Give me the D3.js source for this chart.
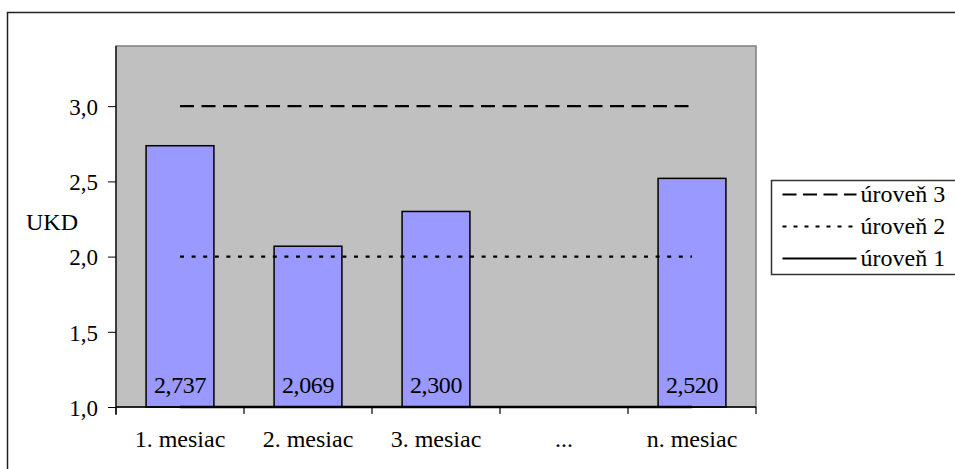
<!DOCTYPE html>
<html>
<head>
<meta charset="utf-8">
<script src="https://cdn.jsdelivr.net/npm/d3@7"></script>
</head>
<body style="margin:0; background:#fff">
<script>
// chart values
var categories = ["1. mesiac", "2. mesiac", "3. mesiac", "...", "n. mesiac"];
var ukdValues = [2.737, 2.069, 2.300, null, 2.520];
var yTicks = [1.0, 1.5, 2.0, 2.5, 3.0];
var levelNames = ["úroveň 3", "úroveň 2", "úroveň 1"];
var levelValues = [3, 2, 1];
var yLabel = "UKD";

var w = 955, h = 469;
var plotL = 116, plotR = 756, plotT = 46, plotB = 407;
var serif = "'Liberation Serif'";

var svg = d3.select("body").append("svg")
    .attr("width", w)
    .attr("height", h);

//outer chart frame
svg.append("rect")
    .attr("x", 7.5).attr("y", 12.5)
    .attr("width", 1000).attr("height", 600)
    .style("fill", "#fff")
    .style("stroke", "#222")
    .style("stroke-width", 1.5);

var x = d3.scaleBand()
    .domain(categories)
    .range([plotL, plotR])
    .padding(0);

var y = d3.scaleLinear()
    .domain([1, 3.4])
    .range([plotB, plotT]);

//plot area
svg.append("rect")
    .attr("x", plotL).attr("y", plotT)
    .attr("width", plotR - plotL).attr("height", plotB - plotT)
    .style("fill", "#c0c0c0")
    .style("stroke", "#808080")
    .style("stroke-width", 1.5);

var commaFmt = function(d, digits){
    return d3.format("." + digits + "f")(d).replace(".", ",");
};

//bars
var barW = x.bandwidth() * 0.53;
var bars = categories.map(function(c, i){ return {cat: c, v: ukdValues[i]}; })
    .filter(function(d){ return d.v != null; });

svg.selectAll(".bar")
    .data(bars)
    .enter()
    .append("rect")
    .attr("class", "bar")
    .attr("x", function(d){ return x(d.cat) + (x.bandwidth() - barW) / 2; })
    .attr("y", function(d){ return y(d.v); })
    .attr("width", barW)
    .attr("height", function(d){ return y(1) - y(d.v); })
    .style("fill", "#9999ff")
    .style("stroke", "#000")
    .style("stroke-width", 1.5);

//y axis
var yAxis = d3.axisLeft(y)
    .tickValues(yTicks)
    .tickSize(8)
    .tickPadding(10)
    .tickFormat(function(d){ return commaFmt(d, 1); });

var yg = svg.append("g")
    .attr("transform", "translate(" + plotL + ",0)")
    .call(yAxis);
yg.select(".domain").attr("d", "M0," + plotT + "V" + (plotB + 8)).style("stroke", "#000").style("stroke-width", 1.2);
yg.selectAll(".tick line").style("stroke", "#000");
yg.selectAll("text")
    .style("font-family", serif)
    .style("font-size", "23px")
    .style("fill", "#000")
    .attr("dy", "0.36em");

//x axis
var xAxis = d3.axisBottom(x).tickSize(0).tickPadding(23);
var xg = svg.append("g")
    .attr("transform", "translate(0," + plotB + ")")
    .call(xAxis);
xg.select(".domain").attr("d", "M" + plotL + ",0H" + plotR).style("stroke", "#000").style("stroke-width", 1.5);
xg.selectAll("text")
    .style("font-family", serif)
    .style("font-size", "24px")
    .style("fill", "#000");

//category boundary ticks
var bounds = categories.map(function(c){ return x(c); }).concat([plotR]);
xg.selectAll(".btick")
    .data(bounds)
    .enter()
    .append("line")
    .attr("class", "btick")
    .attr("x1", function(d){ return d; })
    .attr("x2", function(d){ return d; })
    .attr("y1", 0).attr("y2", 7)
    .style("stroke", "#000")
    .style("stroke-width", 1.2);

//level lines
var dashes = ["14,7.5", "4,7.6", null];
var widths = [2.2, 2.2, 2.5];
var x0 = x(categories[0]) + x.bandwidth() / 2;
var x1 = x(categories[categories.length - 1]) + x.bandwidth() / 2;

svg.selectAll(".level")
    .data(levelValues)
    .enter()
    .append("line")
    .attr("class", "level")
    .attr("x1", x0).attr("x2", x1)
    .attr("y1", function(d){ return y(d); })
    .attr("y2", function(d){ return y(d); })
    .style("stroke", "#000")
    .style("stroke-width", function(d, i){ return widths[i]; })
    .style("stroke-dasharray", function(d, i){ return dashes[i]; });

//value labels inside bars
svg.selectAll(".vlabel")
    .data(bars)
    .enter()
    .append("text")
    .attr("class", "vlabel")
    .attr("text-anchor", "middle")
    .attr("x", function(d){ return x(d.cat) + x.bandwidth() / 2; })
    .attr("y", plotB - 14)
    .style("font-family", serif)
    .style("font-size", "24px")
    .style("letter-spacing", "-0.4px")
    .text(function(d){ return commaFmt(d.v, 3); });

//y axis title
svg.append("text")
    .attr("x", 26)
    .attr("y", 230)
    .style("font-family", serif)
    .style("font-size", "24px")
    .text(yLabel);

//legend
var legend = svg.append("g").attr("transform", "translate(771.5,180.5)");
legend.append("rect")
    .attr("width", 300).attr("height", 94)
    .style("fill", "#fff")
    .style("stroke", "#333")
    .style("stroke-width", 1.5);

var rows = legend.selectAll(".lrow")
    .data(levelNames)
    .enter()
    .append("g")
    .attr("class", "lrow")
    .attr("transform", function(d, i){ return "translate(0," + (14 + i * 32) + ")"; });

rows.append("line")
    .attr("x1", 11).attr("x2", 85)
    .style("stroke", "#000")
    .style("stroke-width", 2.2)
    .style("stroke-dasharray", function(d, i){ return i == 0 ? "14,6.5" : (i == 1 ? "4,7" : null); });

rows.append("text")
    .attr("x", 89)
    .attr("y", 7.5)
    .style("font-family", serif)
    .style("font-size", "24px")
    .text(function(d){ return d; });
</script>
</body>
</html>
